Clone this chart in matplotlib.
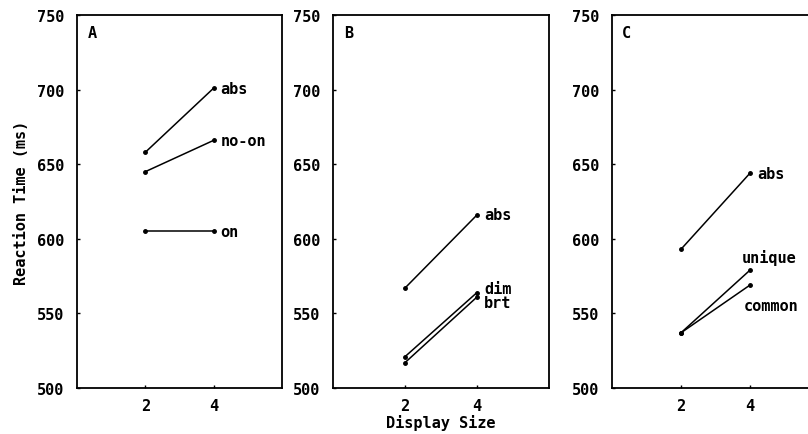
"""
Reaction time by display size, three panels (A, B, C).
"""
import matplotlib
matplotlib.use("Agg")
import matplotlib.pyplot as plt

plt.rcParams['font.family'] = ['DejaVu Sans Mono']
plt.rcParams['font.size'] = 11
plt.rcParams['font.weight'] = 'bold'
plt.rcParams['axes.labelweight'] = 'bold'

display_sizes = [2, 4]

# panel A
a_labels = ['abs', 'no-on', 'on']
a_abs = [658, 701]
a_no_on = [645, 666]
a_on = [605, 605]

# panel B
b_labels = ['abs', 'dim', 'brt']
b_abs = [567, 616]
b_dim = [521, 564]
b_brt = [517, 561]

# panel C
c_labels = ['abs', 'unique', 'common']
c_abs = [593, 644]
c_unique = [537, 579]
c_common = [537, 569]

y_ticks = [500, 550, 600, 650, 700, 750]

W, H = 808, 435
fig = plt.figure(figsize=(W / 100, H / 100), dpi=100)


def make_axes(left, right, top=16, bottom=389):
    ax = fig.add_axes([left / W, 1 - bottom / H, (right - left) / W, (bottom - top) / H])
    ax.set_xlim(0, 6)
    ax.set_ylim(500, 750)
    ax.set_xticks(display_sizes)
    ax.set_yticks(y_ticks)
    ax.tick_params(direction='in', length=2, width=1, pad=9, labelsize=11)
    ax.tick_params(axis='x', pad=7)
    for s in ax.spines.values():
        s.set_linewidth(1.3)
    return ax


def draw(ax, series, labels, offsets):
    for vals, lab, (dx, dy) in zip(series, labels, offsets):
        ax.plot(display_sizes, vals, color='black', lw=1.1, marker='o', ms=2.5)
        ax.text(display_sizes[-1] + dx, vals[-1] + dy, lab, ha='left', va='center')


ax_a = make_axes(77, 282)
draw(ax_a, [a_abs, a_no_on, a_on], a_labels, [(0.2, 0), (0.2, 0), (0.2, 0)])
ax_a.text(0.3, 738, 'A', ha='left', va='center')
ax_a.set_ylabel('Reaction Time (ms)', labelpad=6)

ax_b = make_axes(333, 549)
draw(ax_b, [b_abs, b_dim, b_brt], b_labels, [(0.2, 0), (0.2, 3), (0.2, -4)])
ax_b.text(0.3, 738, 'B', ha='left', va='center')
ax_b.set_xlabel('Display Size', labelpad=1)

ax_c = make_axes(612, 819)
draw(ax_c, [c_abs, c_unique, c_common], c_labels, [(0.2, 0), (-0.24, 9), (-0.19, -14)])
ax_c.text(0.3, 738, 'C', ha='left', va='center')

fig.savefig('out.png', dpi=100)
